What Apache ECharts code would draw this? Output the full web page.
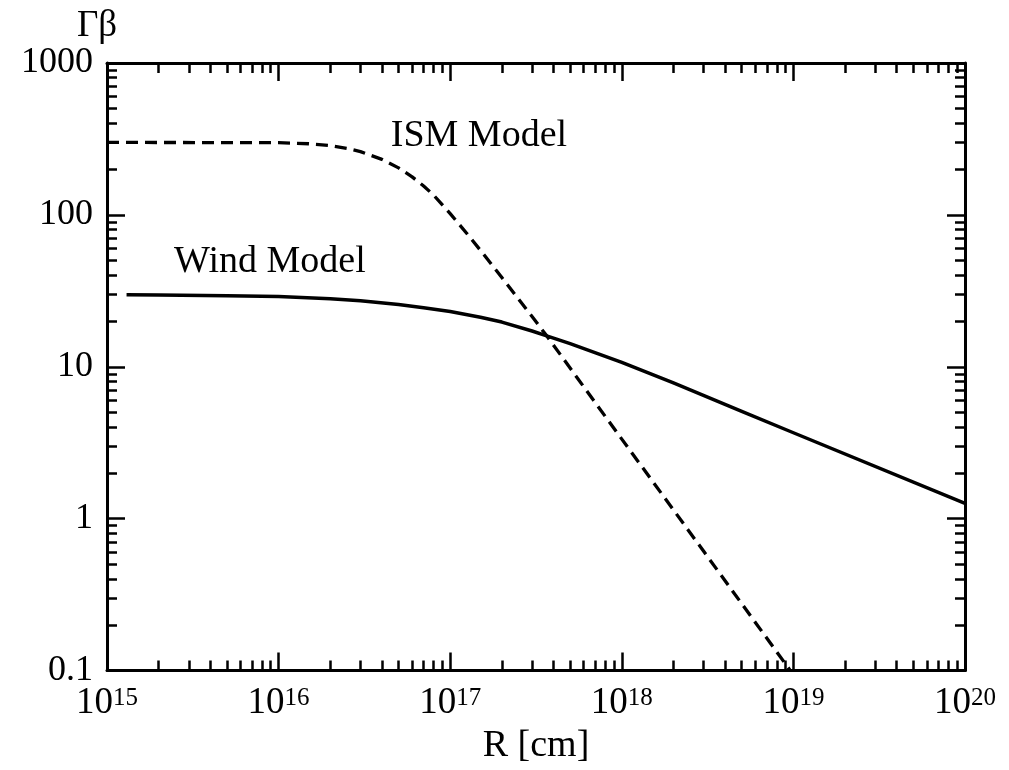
<!DOCTYPE html>
<html>
<head>
<meta charset="utf-8">
<script src="https://cdn.jsdelivr.net/npm/echarts@6/dist/echarts.min.js"></script>
<style>
  html, body { margin: 0; padding: 0; background: #ffffff; }
  #chart { width: 1009px; height: 770px; }
</style>
</head>
<body>
<div id="chart"></div>
<script>
// Radius R [cm] and four-velocity Γβ for the two blast-wave models
const ismR   = [1e15, 1e16, 1.5e16, 2e16, 2.5e16, 3e16, 4e16, 5e16, 6e16, 7e16, 8e16, 1e17, 1.25e17, 1.5e17, 2e17, 3e17, 3.65e17, 1e18, 3e18, 9.6e18];
const ismGB  = [300,  299,  294,    286,  274,    261,  232,  204,  178,  155,  135,  102,  75.5,    58.5,   38.7, 21.4, 16.0,    3.34, 0.61, 0.1];
const windR  = [1.3e15, 2e15, 5e15, 1e16, 2e16, 3e16, 5e16, 7e16, 1e17, 1.5e17, 2e17, 3e17, 3.65e17, 5e17, 1e18, 2e18, 5e18, 1e19, 1e20];
const windGB = [29.8,   29.7, 29.4, 29.0, 28.1, 27.2, 25.7, 24.5, 23.1, 21.2,   19.7, 17.2, 16.0,    14.2, 10.7, 7.83, 5.09, 3.68, 1.26];

// Curve annotations: [R, Γβ, text]
const curveNotes = [[1.47e17, 331, 'ISM Model'], [8.9e15, 49, 'Wind Model']];

// Axis ticks
const xMajorTicks = [1e15, 1e16, 1e17, 1e18, 1e19, 1e20];
const yMajorTicks = [0.1, 1, 10, 100, 1000];
const xTitle = 'R [cm]';
const yTitle = 'Γβ';

function minorTicks(majors) {
  const out = [];
  for (let i = 0; i < majors.length - 1; i++) {
    for (let k = 2; k <= 9; k++) out.push(Number((k * majors[i]).toPrecision(6)));
  }
  return out;
}
const xMinorTicks = minorTicks(xMajorTicks);
const yMinorTicks = minorTicks(yMajorTicks);

const FONT = "'Liberation Serif', 'DejaVu Serif', serif";
const INK = '#000000';

function makeAxis(kind, position, ticks, tickLen, withLine, extra) {
  const isX = kind === 'x';
  return Object.assign({
    type: 'log',
    logBase: 10,
    position: position,
    min: isX ? xMajorTicks[0] : yMajorTicks[0],
    max: isX ? xMajorTicks[xMajorTicks.length - 1] : yMajorTicks[yMajorTicks.length - 1],
    splitLine: { show: false },
    axisLine: { show: withLine, lineStyle: { color: INK, width: 3 } },
    axisTick: { show: true, inside: true, length: tickLen, customValues: ticks,
                lineStyle: { color: INK, width: 2.5 } },
    axisLabel: { show: false },
    axisPointer: { show: false }
  }, extra || {});
}

const option = {
  animation: false,
  backgroundColor: '#ffffff',
  grid: { left: 107, right: 44, top: 63, bottom: 98, containLabel: false },
  xAxis: [
    makeAxis('x', 'bottom', xMajorTicks, 18, true, {
      name: xTitle,
      nameLocation: 'middle',
      nameGap: 56,
      nameTextStyle: { fontFamily: FONT, fontSize: 38, color: INK },
      axisLabel: {
        show: true,
        customValues: xMajorTicks,
        margin: 15,
        formatter: function (v) {
          return '{b|10}{s|' + Math.round(Math.log10(v)) + '}';
        },
        rich: {
          b: { fontFamily: FONT, fontSize: 37, color: INK, lineHeight: 36 },
          s: { fontFamily: FONT, fontSize: 25, color: INK, verticalAlign: 'top', lineHeight: 25 }
        }
      }
    }),
    makeAxis('x', 'bottom', xMinorTicks, 10, false),
    makeAxis('x', 'top', xMajorTicks, 18, true),
    makeAxis('x', 'top', xMinorTicks, 10, false)
  ],
  yAxis: [
    makeAxis('y', 'left', yMajorTicks, 18, true, {
      name: yTitle,
      nameLocation: 'end',
      nameGap: 4,
      nameTextStyle: { fontFamily: FONT, fontSize: 37, lineHeight: 26, color: INK, padding: [0, 20, 0, 0] },
      axisLabel: {
        show: true,
        customValues: yMajorTicks,
        margin: 14,
        fontFamily: FONT,
        fontSize: 36,
        color: INK,
        formatter: function (v) { return String(Number(v.toPrecision(6))); }
      }
    }),
    makeAxis('y', 'left', yMinorTicks, 10, false),
    makeAxis('y', 'right', yMajorTicks, 18, true),
    makeAxis('y', 'right', yMinorTicks, 10, false)
  ],
  series: [
    {
      name: 'ISM Model',
      type: 'line',
      xAxisIndex: 0, yAxisIndex: 0,
      data: ismR.map((r, i) => [r, ismGB[i]]),
      showSymbol: false,
      smooth: false,
      clip: true,
      lineStyle: { color: INK, width: 3.3, type: [12, 7], join: 'round' }
    },
    {
      name: 'Wind Model',
      type: 'line',
      xAxisIndex: 0, yAxisIndex: 0,
      data: windR.map((r, i) => [r, windGB[i]]),
      showSymbol: false,
      smooth: false,
      clip: true,
      lineStyle: { color: INK, width: 3.5, join: 'round' }
    },
    {
      name: 'notes',
      type: 'scatter',
      xAxisIndex: 0, yAxisIndex: 0,
      silent: true,
      symbolSize: 0,
      itemStyle: { opacity: 1, color: INK },
      emphasis: { disabled: true },
      data: curveNotes,
      label: {
        show: true,
        position: 'inside',
        formatter: function (p) { return p.data[2]; },
        fontFamily: FONT,
        fontSize: 38,
        color: INK,
        opacity: 1
      }
    }
  ]
};

const chart = echarts.init(document.getElementById('chart'), null, { renderer: 'canvas' });
chart.setOption(option);
</script>
</body>
</html>
